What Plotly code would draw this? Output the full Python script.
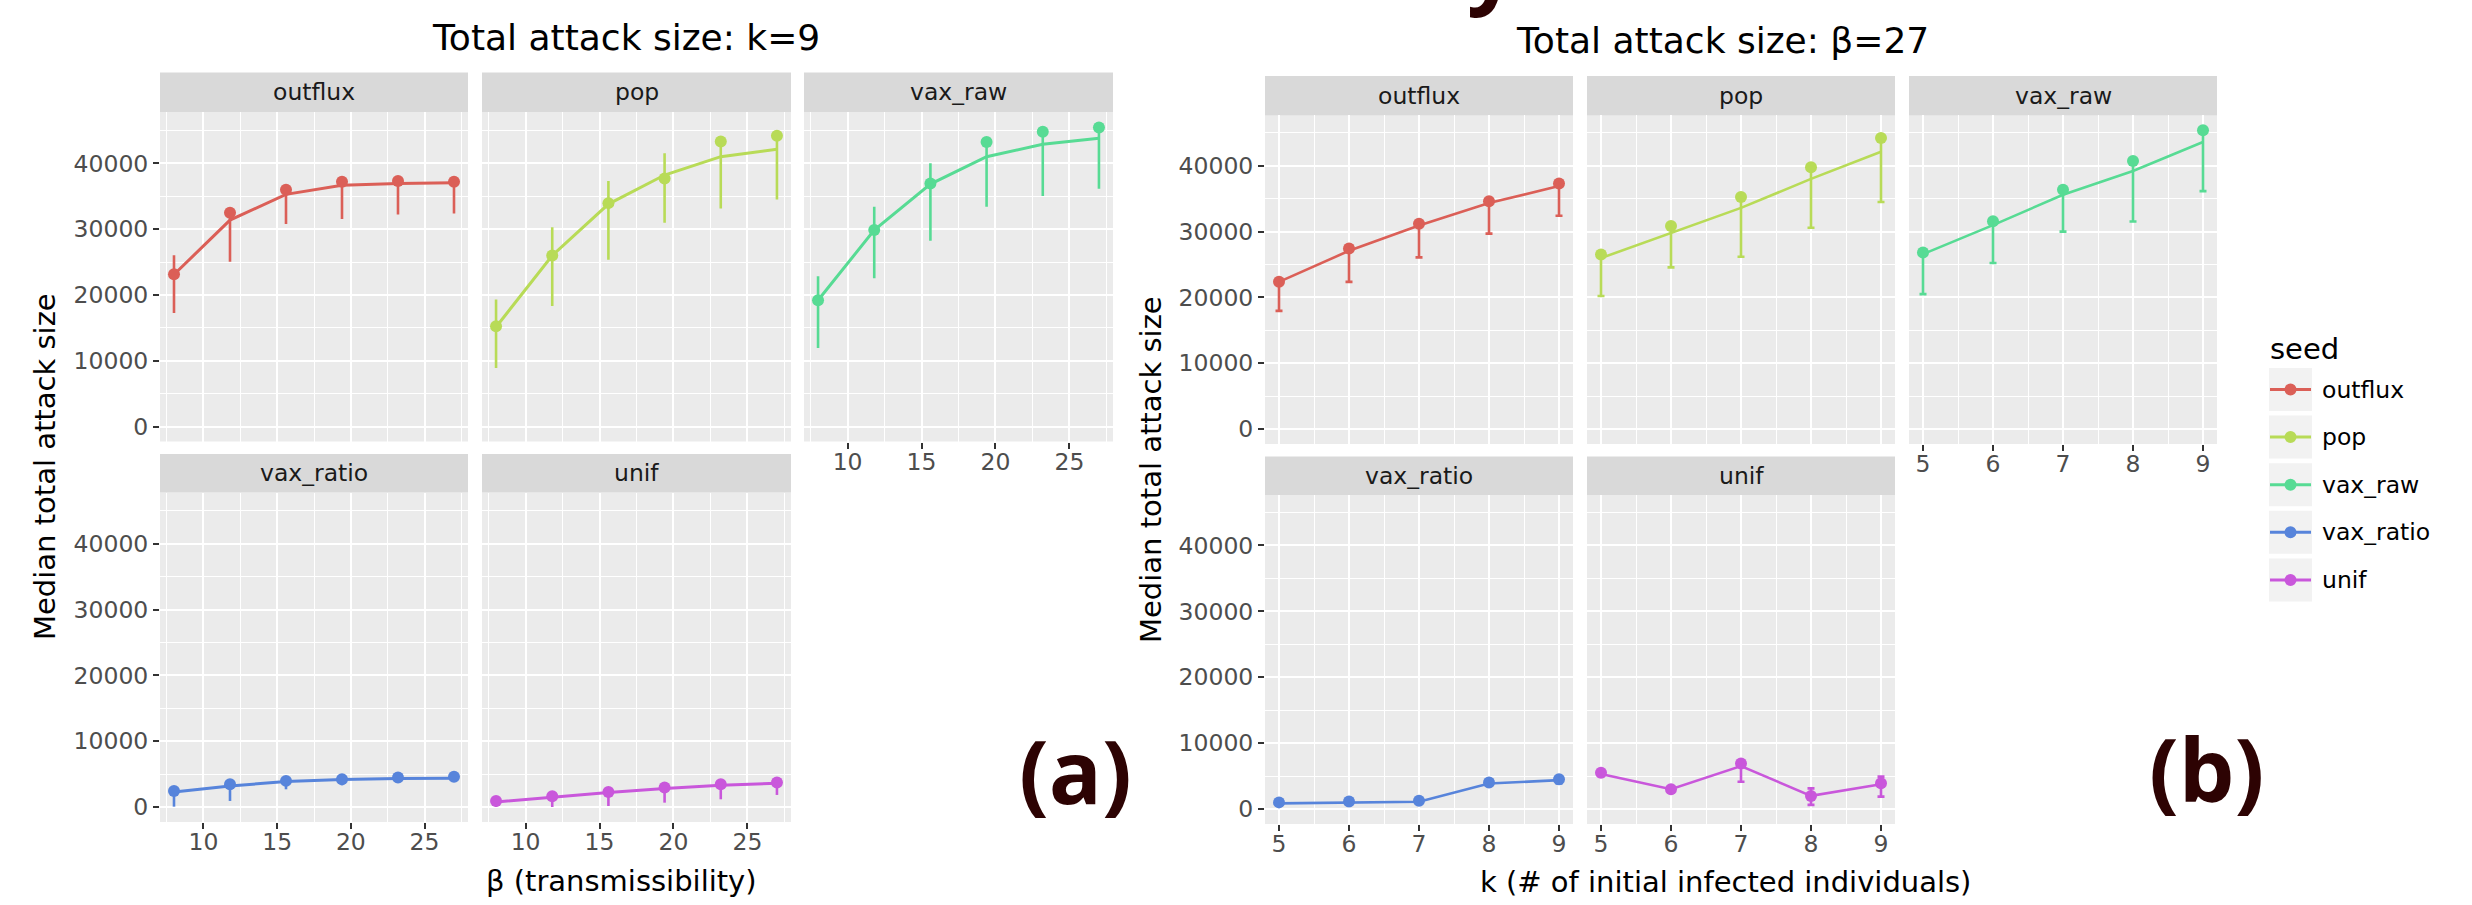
import plotly.graph_objects as go

W, H = 2472, 905

# ---------------- data ----------------
seeds = ["outflux", "pop", "vax_raw", "vax_ratio", "unif"]
colors = ["#DB5F57", "#B8DB57", "#57DB94", "#5784DB", "#C957DB"]

beta = [8, 11.8, 15.6, 19.4, 23.2, 27]
k_vals = [5, 6, 7, 8, 9]

# (a) Total attack size, k=9 (x = beta)
a_med_outflux = [23150, 32500, 36000, 37200, 37300, 37200]
a_med_pop = [15230, 26000, 33950, 37700, 43300, 44200]
a_med_vax_raw = [19200, 29850, 36950, 43250, 44800, 45430]
a_med_vax_ratio = [2440, 3460, 3970, 4220, 4470, 4580]
a_med_unif = [920, 1630, 2290, 2950, 3460, 3710]

a_line_outflux = [23100, 31370, 35280, 36650, 36950, 37050]
a_line_pop = [15130, 25990, 33800, 38220, 41010, 42130]
a_line_vax_raw = [19190, 29850, 36850, 41010, 42890, 43810]
a_line_vax_ratio = [2290, 3200, 3860, 4170, 4320, 4370]
a_line_unif = [760, 1530, 2190, 2800, 3300, 3610]

a_low_outflux = [17260, 25030, 30760, 31520, 32230, 32390]
a_low_pop = [8880, 18320, 25330, 30960, 33150, 34520]
a_low_vax_raw = [11930, 22540, 28220, 33400, 35020, 36140]
a_low_vax_ratio = [50, 920, 2690, 3300, 3800, 4000]
a_low_unif = [0, 0, 150, 660, 1170, 1830]

a_high_outflux = [26040, 32500, 36000, 37200, 37300, 37200]
a_high_pop = [19290, 30300, 37310, 41520, 43300, 44200]
a_high_vax_raw = [22840, 33400, 40000, 43250, 44800, 45430]
a_high_vax_ratio = [2440, 3460, 3970, 4220, 4470, 4580]
a_high_unif = [920, 1630, 2290, 2950, 3460, 3710]

# (b) Total attack size, beta=27 (x = k)
b_med_outflux = [22360, 27420, 31180, 34590, 37300]
b_med_pop = [26520, 30830, 35240, 39750, 44220]
b_med_vax_raw = [26820, 31580, 36340, 40710, 45370]
b_med_vax_ratio = [1010, 1160, 1260, 4030, 4530]
b_med_unif = [5500, 2990, 6900, 1990, 3900]

b_line_outflux = [22360, 27070, 30930, 34340, 36900]
b_line_pop = [25970, 29830, 33590, 38000, 42110]
b_line_vax_raw = [26570, 30980, 35590, 39200, 43610]
b_line_vax_ratio = [860, 1010, 1110, 3870, 4380]
b_line_unif = [5300, 3000, 6520, 2000, 3750]

b_low_outflux = [17950, 22360, 26070, 29680, 32390]
b_low_pop = [20200, 24560, 26170, 30580, 34490]
b_low_vax_raw = [20500, 25220, 29980, 31530, 36140]
b_low_vax_ratio = [800, 950, 1050, 3750, 3900]
b_low_unif = [5000, 2700, 4150, 630, 1890]

b_high_outflux = [22360, 27420, 31180, 34590, 37300]
b_high_pop = [26520, 30830, 35240, 39750, 44220]
b_high_vax_raw = [26820, 31580, 36340, 40710, 45370]
b_high_vax_ratio = [1100, 1300, 1400, 4200, 4800]
b_high_unif = [5800, 3200, 6900, 3140, 4910]

a_med = [a_med_outflux, a_med_pop, a_med_vax_raw, a_med_vax_ratio, a_med_unif]
a_line = [a_line_outflux, a_line_pop, a_line_vax_raw, a_line_vax_ratio, a_line_unif]
a_low = [a_low_outflux, a_low_pop, a_low_vax_raw, a_low_vax_ratio, a_low_unif]
a_high = [a_high_outflux, a_high_pop, a_high_vax_raw, a_high_vax_ratio, a_high_unif]
b_med = [b_med_outflux, b_med_pop, b_med_vax_raw, b_med_vax_ratio, b_med_unif]
b_line = [b_line_outflux, b_line_pop, b_line_vax_raw, b_line_vax_ratio, b_line_unif]
b_low = [b_low_outflux, b_low_pop, b_low_vax_raw, b_low_vax_ratio, b_low_unif]
b_high = [b_high_outflux, b_high_pop, b_high_vax_raw, b_high_vax_ratio, b_high_unif]

# ---------------- layout helpers ----------------
FONT = "DejaVu Sans"
LABEL_FONT = "Open Sans, Roboto, DejaVu Sans, sans-serif"
LABEL_COLOR = "#2D0303"


def px(x):
    return x / W


def py(y):
    return 1 - y / H


sides = {
    "a": dict(cols=[(160, 468), (482, 791), (804, 1113)],
              rows=[(72.6, 112, 441.5), (454, 492.5, 822)],
              xr=[7.05, 27.95], yr=[-2280, 47800], xv=beta,
              med=a_med, line=a_line, low=a_low, high=a_high,
              dtick=5, minor=2.5, cap=0, lw=3),
    "b": dict(cols=[(1265, 1573), (1587, 1895), (1909, 2217)],
              rows=[(76, 115.4, 444), (456.5, 495, 824)],
              xr=[4.8, 9.2], yr=[-2270, 47640], xv=k_vals,
              med=b_med, line=b_line, low=b_low, high=b_high,
              dtick=1, minor=0.5, cap=3.5, lw=2.6),
}

fig = go.Figure()
layout = {}
shapes = []
annotations = []

n = 0
for side in ["a", "b"]:
    S = sides[side]
    for i, seed in enumerate(seeds):
        n += 1
        r, c = divmod(i, 3)
        x0, x1 = S["cols"][c]
        st, y0, y1 = S["rows"][r]
        show_x = (r == 1) or (i == 2)
        show_y = (c == 0)
        xname = "xaxis" if n == 1 else f"xaxis{n}"
        yname = "yaxis" if n == 1 else f"yaxis{n}"
        xa = "x" if n == 1 else f"x{n}"
        ya = "y" if n == 1 else f"y{n}"
        layout[xname] = dict(
            domain=[px(x0), px(x1)], range=S["xr"], anchor=ya,
            tickmode="linear", tick0=0, dtick=S["dtick"],
            showgrid=True, gridcolor="white", gridwidth=2.4,
            minor=dict(tick0=0, dtick=S["minor"], showgrid=True,
                       gridcolor="white", gridwidth=1.2, ticks=""),
            zeroline=False, showline=False,
            showticklabels=show_x, ticks="outside" if show_x else "",
            ticklen=6, tickwidth=2.2, tickcolor="#333333",
            ticklabelstandoff=-7,
            tickfont=dict(family=FONT, size=23.5, color="#4D4D4D"),
            fixedrange=True,
        )
        layout[yname] = dict(
            domain=[py(y1), py(y0)], range=S["yr"], anchor=xa,
            tickmode="linear", tick0=0, dtick=10000, tickformat="d",
            showgrid=True, gridcolor="white", gridwidth=2.4,
            minor=dict(tick0=0, dtick=5000, showgrid=True,
                       gridcolor="white", gridwidth=1.2, ticks=""),
            zeroline=False, showline=False,
            showticklabels=show_y, ticks="outside" if show_y else "",
            ticklen=6, tickwidth=2.2, tickcolor="#333333",
            tickfont=dict(family=FONT, size=23.5, color="#4D4D4D"),
            fixedrange=True,
        )
        # strip
        shapes.append(dict(type="rect", xref="paper", yref="paper",
                           x0=px(x0), x1=px(x1), y0=py(y0), y1=py(st),
                           fillcolor="#D9D9D9", line=dict(width=0), layer="below"))
        annotations.append(dict(xref="paper", yref="paper",
                                x=px((x0 + x1) / 2), y=py((st + y0) / 2),
                                text=seed, showarrow=False,
                                xanchor="center", yanchor="middle",
                                font=dict(family=FONT, size=23.5, color="#1A1A1A")))
        col = colors[i]
        med = S["med"][i]
        lo = S["low"][i]
        hi = S["high"][i]
        fig.add_trace(go.Scatter(
            x=S["xv"], y=S["line"][i], mode="lines", xaxis=xa, yaxis=ya,
            line=dict(color=col, width=S["lw"]), showlegend=False, hoverinfo="skip"))
        fig.add_trace(go.Scatter(
            x=S["xv"], y=med, mode="markers", xaxis=xa, yaxis=ya,
            marker=dict(color=col, size=12, line=dict(width=0)),
            error_y=dict(type="data", symmetric=False,
                         array=[h - m for h, m in zip(hi, med)],
                         arrayminus=[m - l for m, l in zip(med, lo)],
                         color=col, thickness=2.6, width=S["cap"]),
            showlegend=False, name=seed))


def txt(x, y, text, size, color="black", angle=0, anchor="center", family=FONT):
    return dict(xref="paper", yref="paper", x=px(x), y=py(y), text=text,
                showarrow=False, xanchor=anchor, yanchor="middle", textangle=angle,
                font=dict(family=family, size=size, color=color))


# titles
annotations += [
    txt(626, 37, "Total attack size: k=9", 36),
    txt(1722, 40, "Total attack size: β=27", 36),
    txt(621, 881, "β (transmissibility)", 29),
    txt(1725, 882, "k (# of initial infected individuals)", 29),
    txt(45, 467, "Median total attack size", 29, angle=-90),
    txt(1151, 470, "Median total attack size", 29, angle=-90),
]

# panel labels
LABEL_SIZE = 88
annotations.append(txt(1075, 770, "<b>(a)</b>", LABEL_SIZE, color=LABEL_COLOR, family=LABEL_FONT))
annotations.append(txt(2206, 768, "<b>(b)</b>", LABEL_SIZE, color=LABEL_COLOR, family=LABEL_FONT))
# fragment of a cut-off caption at the very top
annotations.append(txt(1492, -37, "<b>y</b>", LABEL_SIZE, color=LABEL_COLOR, family=LABEL_FONT))

# legend (ggplot-style)
annotations.append(txt(2268, 349, "seed", 29, anchor="left"))
for i, seed in enumerate(seeds):
    top = 368 + 47.6 * i
    cy = top + 21.5
    shapes.append(dict(type="rect", xref="paper", yref="paper",
                       x0=px(2269), x1=px(2312), y0=py(top + 43), y1=py(top),
                       fillcolor="#F2F2F2", line=dict(width=0)))
    shapes.append(dict(type="line", xref="paper", yref="paper",
                       x0=px(2270), x1=px(2311), y0=py(cy), y1=py(cy),
                       line=dict(color=colors[i], width=3)))
    shapes.append(dict(type="circle", xref="paper", yref="paper",
                       x0=px(2290.5 - 6), x1=px(2290.5 + 6), y0=py(cy + 6), y1=py(cy - 6),
                       fillcolor=colors[i], line=dict(width=0)))
    annotations.append(txt(2320, cy, seed, 23.5, anchor="left"))

fig.update_layout(
    width=W, height=H, autosize=False,
    margin=dict(l=0, r=0, t=0, b=0, pad=0),
    paper_bgcolor="white", plot_bgcolor="#EBEBEB",
    showlegend=False,
    shapes=shapes, annotations=annotations,
    **layout,
)

fig.write_html(
    "out.html",
    config={"displayModeBar": False},
    post_script="document.body.style.margin='0px';document.body.style.padding='0px';"
                "document.body.style.overflow='hidden';",
)
